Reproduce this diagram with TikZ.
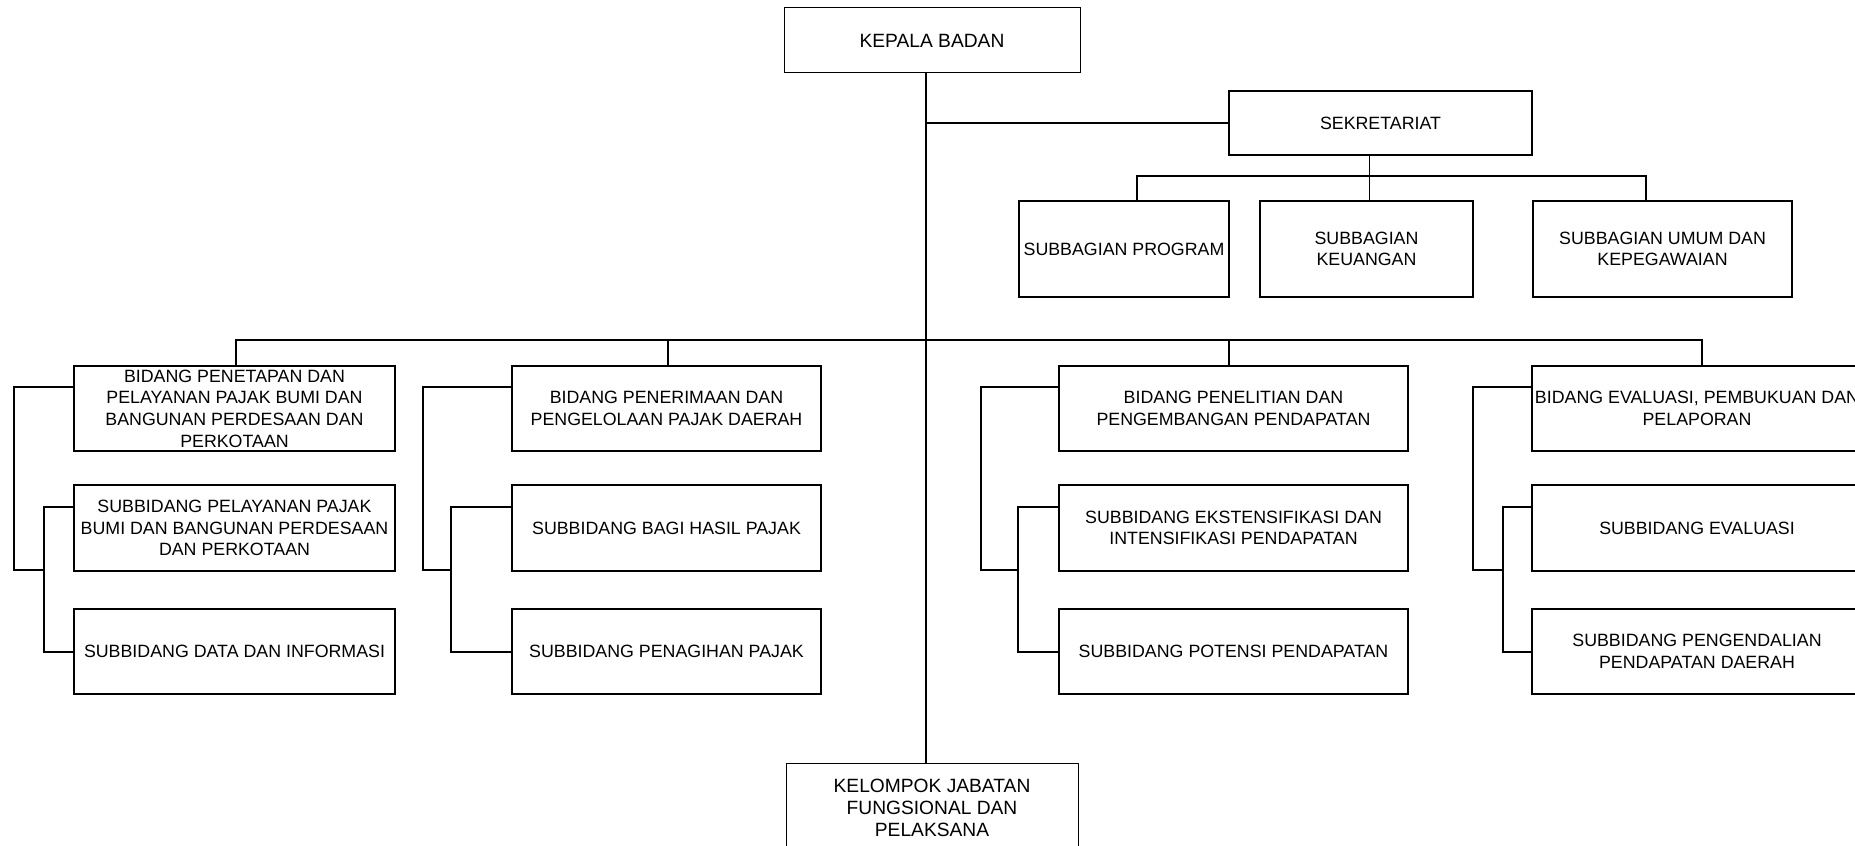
\documentclass[tikz,border=0pt]{standalone}
\usepackage{fontspec}
\setmainfont{Liberation Sans}
\begin{document}
\begin{tikzpicture}[x=0.5pt,y=-0.5pt,
  box/.style={draw=black, line width=1pt, inner sep=0pt, align=center,
    font=\fontsize{8.9}{10.85}\selectfont},
  topbox/.style={box, line width=0.5pt, font=\fontsize{9.6}{11}\selectfont},
  ln/.style={draw=black, line width=1.1pt},
  spine/.style={draw=black, line width=0.8pt},
  thinln/.style={draw=black, line width=0.5pt},
  rowA/.style={minimum height=42.5pt},
  rowB/.style={minimum height=43pt},
  rowC/.style={minimum height=42.5pt}]
\clip (0,0) rectangle (1855,845);
\fill[white] (0,0) rectangle (1855,845);

% top
\node[topbox, minimum width=148pt, minimum height=32.5pt] (kepala) at (932,40.5) {KEPALA BADAN};
\node[box, minimum width=151.5pt, minimum height=32pt] (sek) at (1380.5,123) {SEKRETARIAT};
\node[box, minimum width=105pt, minimum height=48pt] (prog) at (1124,249) {SUBBAGIAN PROGRAM};
\node[box, minimum width=106.5pt, minimum height=48pt] (keu) at (1366.5,249) {SUBBAGIAN\\KEUANGAN};
\node[box, minimum width=129.5pt, minimum height=48pt] (umum) at (1662.5,249) {SUBBAGIAN UMUM DAN\\KEPEGAWAIAN};
\node[topbox, minimum width=146pt, minimum height=44.5pt] (kel) at (932,807.5) {KELOMPOK JABATAN\\FUNGSIONAL DAN\\PELAKSANA};

% column 1
\node[box, rowA, minimum width=160.5pt] (b1) at (234.5,408.5) {BIDANG PENETAPAN DAN\\PELAYANAN PAJAK BUMI DAN\\BANGUNAN PERDESAAN DAN\\PERKOTAAN};
\node[box, rowB, minimum width=160.5pt] (b2) at (234.5,528) {SUBBIDANG PELAYANAN PAJAK\\BUMI DAN BANGUNAN PERDESAAN\\DAN PERKOTAAN};
\node[box, rowC, minimum width=160.5pt] (b3) at (234.5,651.5) {SUBBIDANG DATA DAN INFORMASI};
% column 2
\node[box, rowA, minimum width=154.5pt] (c1) at (666.5,408.5) {BIDANG PENERIMAAN DAN\\PENGELOLAAN PAJAK DAERAH};
\node[box, rowB, minimum width=154.5pt] (c2) at (666.5,528) {SUBBIDANG BAGI HASIL PAJAK};
\node[box, rowC, minimum width=154.5pt] (c3) at (666.5,651.5) {SUBBIDANG PENAGIHAN PAJAK};
% column 3
\node[box, rowA, minimum width=174.5pt] (e1) at (1233.5,408.5) {BIDANG PENELITIAN DAN\\PENGEMBANGAN PENDAPATAN};
\node[box, rowB, minimum width=174.5pt] (e2) at (1233.5,528) {SUBBIDANG EKSTENSIFIKASI DAN\\INTENSIFIKASI PENDAPATAN};
\node[box, rowC, minimum width=174.5pt] (e3) at (1233.5,651.5) {SUBBIDANG POTENSI PENDAPATAN};
% column 4
\node[box, rowA, minimum width=165pt] (d1) at (1697,408.5) {BIDANG EVALUASI, PEMBUKUAN DAN\\PELAPORAN};
\node[box, rowB, minimum width=165pt] (d2) at (1697,528) {SUBBIDANG EVALUASI};
\node[box, rowC, minimum width=165pt] (d3) at (1697,651.5) {SUBBIDANG PENGENDALIAN\\PENDAPATAN DAERAH};

% helper coordinates
\coordinate (sx) at (926,0);
\coordinate (sv) at (1369,0);
\coordinate (sl) at (1137,0);
\coordinate (sr) at (1646,0);
\coordinate (sb) at (0,176);
\coordinate (mb) at (0,340);
\coordinate (x1) at (236,0);
\coordinate (x2) at (668,0);
\coordinate (x3) at (1229,0);
\coordinate (x4) at (1702,0);
\coordinate (r1) at (0,387);
\coordinate (r2) at (0,507);
\coordinate (r3) at (0,652);
\coordinate (ob) at (0,570);
\coordinate (o1) at (14,0);   \coordinate (i1) at (44,0);
\coordinate (o2) at (423,0);  \coordinate (i2) at (451,0);
\coordinate (o3) at (981,0);  \coordinate (i3) at (1018,0);
\coordinate (o4) at (1473,0); \coordinate (i4) at (1503,0);

% spine and secretariat
\draw[spine] (sx |- kepala.south) -- (sx |- kel.north);
\draw[ln] (sx |- sek.west) -- (sek.west);
\draw[thinln] (sv |- sek.south) -- (sv |- keu.north);
\draw[ln] (sl |- prog.north) -- (sl |- sb) -- (sr |- sb) -- (sr |- umum.north);

% main bus
\draw[ln] (x1 |- b1.north) -- (x1 |- mb) -- (x4 |- mb) -- (x4 |- d1.north);
\draw[ln] (x2 |- mb) -- (x2 |- c1.north);
\draw[ln] (x3 |- mb) -- (x3 |- e1.north);

% brackets
\draw[ln] (b1.west |- r1) -- (o1 |- r1) -- (o1 |- ob) -- (i1 |- ob);
\draw[ln] (b2.west |- r2) -- (i1 |- r2) -- (i1 |- r3) -- (b3.west |- r3);
\draw[ln] (c1.west |- r1) -- (o2 |- r1) -- (o2 |- ob) -- (i2 |- ob);
\draw[ln] (c2.west |- r2) -- (i2 |- r2) -- (i2 |- r3) -- (c3.west |- r3);
\draw[ln] (e1.west |- r1) -- (o3 |- r1) -- (o3 |- ob) -- (i3 |- ob);
\draw[ln] (e2.west |- r2) -- (i3 |- r2) -- (i3 |- r3) -- (e3.west |- r3);
\draw[ln] (d1.west |- r1) -- (o4 |- r1) -- (o4 |- ob) -- (i4 |- ob);
\draw[ln] (d2.west |- r2) -- (i4 |- r2) -- (i4 |- r3) -- (d3.west |- r3);
\end{tikzpicture}
\end{document}
